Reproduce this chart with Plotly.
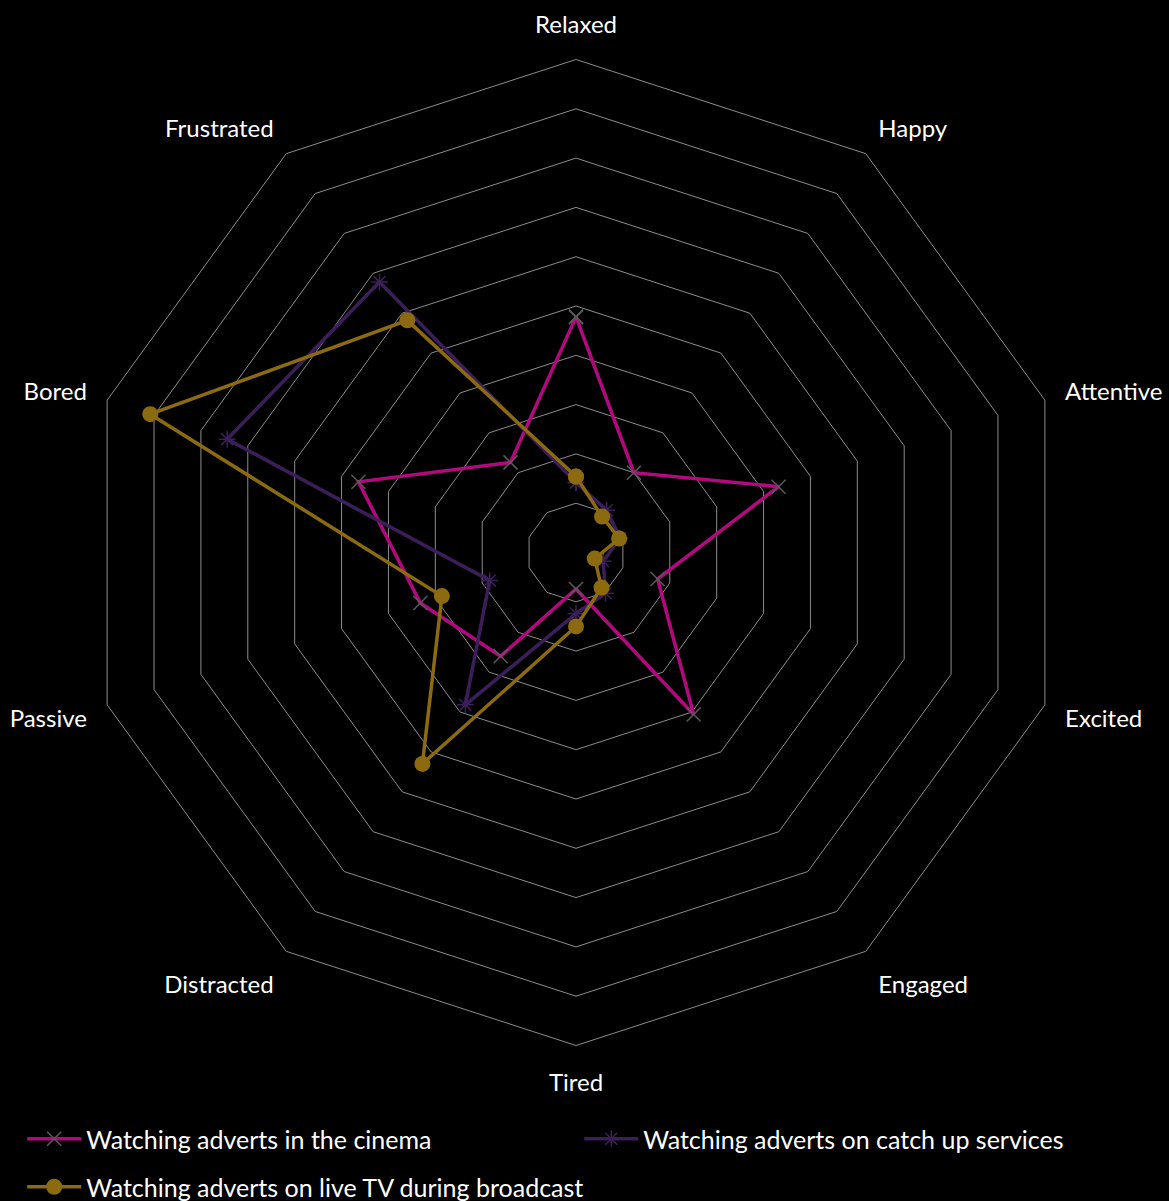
import plotly.graph_objects as go

categories = ["Relaxed", "Happy", "Attentive", "Excited", "Engaged",
              "Tired", "Distracted", "Passive", "Bored", "Frustrated"]

cinema = [23.9, 10.0, 21.6, 8.7, 20.3, 3.7, 13.0, 16.6, 23.2, 11.3]
catch_up = [7.1, 5.3, 4.7, 2.9, 5.1, 6.2, 19.1, 9.2, 37.2, 33.9]
live_tv = [7.7, 4.5, 4.6, 2.0, 4.4, 7.5, 26.5, 14.3, 45.4, 29.1]

series_names = ["Watching adverts in the cinema",
                "Watching adverts on catch up services",
                "Watching adverts on live TV during broadcast"]

def closed(v):
    return v + v[:1]

cats_closed = closed(categories)

fig = go.Figure()
fig.add_trace(go.Scatterpolar(
    r=closed(cinema), theta=cats_closed, name=series_names[0],
    mode="lines+markers", legend="legend",
    line=dict(color="#B4087F", width=3.5),
    marker=dict(symbol="x-thin-open", size=14, color="#5a5a5a",
                line=dict(color="#5a5a5a", width=1.5)),
))
fig.add_trace(go.Scatterpolar(
    r=closed(catch_up), theta=cats_closed, name=series_names[1],
    mode="lines+markers", legend="legend",
    line=dict(color="#3C1F5A", width=3.5),
    marker=dict(symbol="asterisk-open", size=14, color="#3C1F5A",
                line=dict(color="#3C1F5A", width=1.5)),
))
fig.add_trace(go.Scatterpolar(
    r=closed(live_tv), theta=cats_closed, name=series_names[2],
    mode="lines+markers", legend="legend2",
    line=dict(color="#8C6A10", width=3.5),
    marker=dict(symbol="circle", size=16, color="#8C6A10"),
))

legend_common = dict(orientation="h", xanchor="left", yanchor="middle",
                     font=dict(size=25, color="white"),
                     bgcolor="rgba(0,0,0,0)", itemwidth=54)

fig.update_layout(
    width=1169, height=1201,
    paper_bgcolor="black", plot_bgcolor="black",
    margin=dict(l=0, r=0, t=0, b=0, autoexpand=False),
    font=dict(family="Lato, Open Sans, sans-serif", color="white", size=24),
    polar=dict(
        bgcolor="black",
        gridshape="linear",
        domain=dict(x=[83/1169, 1069/1169], y=[155.5/1201, 1141.5/1201]),
        radialaxis=dict(range=[0, 50], dtick=5, showticklabels=False,
                        showline=False, ticks="", gridcolor="#8c8c8c",
                        gridwidth=1),
        angularaxis=dict(direction="clockwise", rotation=90,
                         showgrid=False, showline=True, linecolor="#8c8c8c",
                         linewidth=1, ticks="outside", ticklen=16,
                         tickcolor="rgba(0,0,0,0)",
                         tickfont=dict(size=24, color="white")),
    ),
    showlegend=True,
    legend=dict(x=0.019, y=(1201 - 1139) / 1201, entrywidth=488,
                entrywidthmode="pixels", **legend_common),
    legend2=dict(x=0.019, y=(1201 - 1187) / 1201, **legend_common),
)

fig.write_html("out.html")
